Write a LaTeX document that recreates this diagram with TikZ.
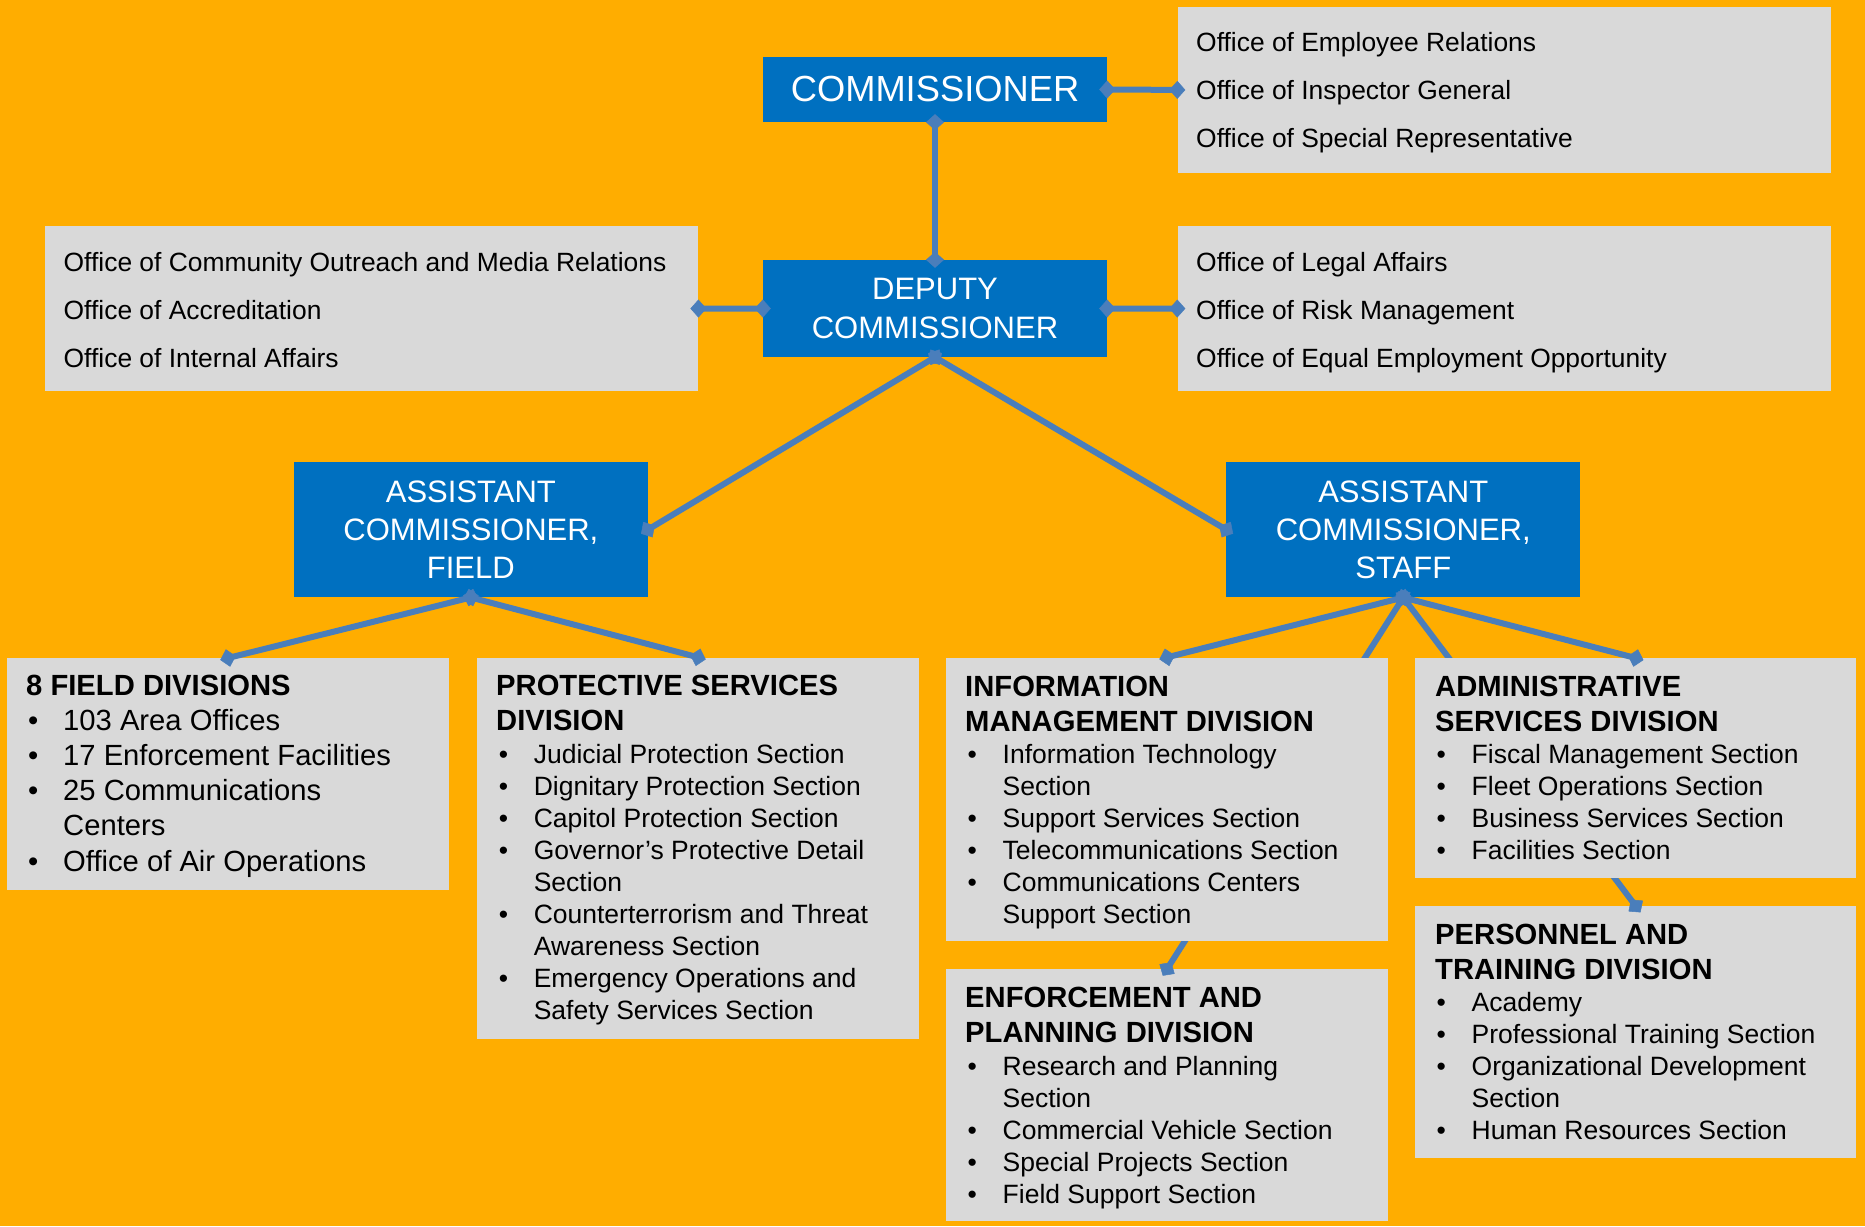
\documentclass[tikz,border=0pt]{standalone}
\usepackage{fontspec}
\setmainfont{Liberation Sans}
\usetikzlibrary{arrows.meta}
\definecolor{bgor}{HTML}{FFAD00}
\definecolor{boxblue}{HTML}{0070C0}
\definecolor{boxgray}{HTML}{D9D9D9}
\definecolor{conncol}{HTML}{4A7EBB}
\newcommand\mybul{\makebox[35pt][l]{•}}
\newcommand\mycont{\hspace*{35pt}}
\newcommand\offfont{\fontsize{26.4}{47.8}\selectfont}
\newcommand\hdrfont{\bfseries\fontsize{29.2}{35}\selectfont}
\newcommand\itmfont{\fontsize{26.5}{32}\selectfont}
\newcommand\fdfont{\fontsize{29.2}{35.25}\selectfont}
\newcommand\bxfont{\fontsize{31}{38.2}\selectfont}
\newcommand\commfont{\fontsize{36.3}{40}\selectfont}
\begin{document}
\begin{tikzpicture}[x=1pt,y=-1pt,
  graybox/.style={fill=boxgray, draw=none, anchor=north west, inner sep=0pt},
  bluebox/.style={fill=boxblue, text=white, draw=none, inner sep=0pt, align=center, font=\bxfont},
  offtxt/.style={anchor=north west, inner sep=0pt, align=left, font=\offfont, yshift=33.46pt},
  hdrtxt/.style={anchor=north west, inner sep=0pt, align=left, font=\hdrfont, yshift=24.5pt},
  itmtxt/.style={anchor=north west, inner sep=0pt, align=left, font=\itmfont, yshift=22.4pt},
  fdtxt/.style={anchor=north west, inner sep=0pt, align=left, font=\fdfont, yshift=24.675pt},
  fdhdr/.style={anchor=north west, inner sep=0pt, align=left, font=\bfseries\fdfont, yshift=24.675pt},
  conn/.style={draw=conncol, line width=6pt,
    {Diamond[length=16pt,width=18pt,line width=0.5pt]}-{Diamond[length=16pt,width=18pt,line width=0.5pt]},
    shorten <=-8pt, shorten >=-8pt}
]
\useasboundingbox (0,0) rectangle (1865,1226);
\fill[bgor] (0,0) rectangle (1865,1226);

% office boxes
\node[graybox, minimum width=653.2pt, minimum height=166pt] (off1) at (1177.3,6.7) {};
\node[offtxt] (off1t) at (1196,51.7) {\strut Office of Employee Relations\\Office of Inspector General\\Office of Special Representative};
\node[graybox, minimum width=653.3pt, minimum height=164.7pt] (offL) at (44.7,226) {};
\node[offtxt] (offLt) at (63.5,271.7) {\strut Office of Community Outreach and Media Relations\\Office of Accreditation\\Office of Internal Affairs};
\node[graybox, minimum width=653.2pt, minimum height=164.7pt] (offR) at (1177.3,226) {};
\node[offtxt] (offRt) at (1196,271.7) {\strut Office of Legal Affairs\\Office of Risk Management\\Office of Equal Employment Opportunity};

% blue boxes
\node[bluebox, font=\commfont, minimum width=344pt, minimum height=65pt] (comm) at (935,89.5) {COMMISSIONER};
\node[bluebox, minimum width=344pt, minimum height=97pt] (dep) at (935,308.5) {DEPUTY\\COMMISSIONER};
\node[bluebox, minimum width=353.7pt, minimum height=135.3pt] (acf) at (470.85,529.65) {ASSISTANT\\COMMISSIONER,\\FIELD};
\node[bluebox, minimum width=353.7pt, minimum height=135.3pt] (acs) at (1403.25,529.65) {ASSISTANT\\COMMISSIONER,\\STAFF};

% 8 field divisions
\node[graybox, minimum width=441.2pt, minimum height=232pt] (fd) at (7.2,658) {};
\node[fdhdr] (fdh) at (26,695) {\strut 8 FIELD DIVISIONS};
\node[fdtxt] (fdi) at (28,730) {\strut\mybul 103 Area Offices\\\mybul 17 Enforcement Facilities\\\mybul 25 Communications\\\mycont Centers\\\mybul Office of Air Operations};

% protective services
\node[graybox, minimum width=441.3pt, minimum height=381pt] (psd) at (477.2,657.3) {};
\node[hdrtxt] (psdh) at (496,695.5) {\strut PROTECTIVE SERVICES\\DIVISION};
\node[itmtxt] (psdi) at (498.6,763.5) {\strut\mybul Judicial Protection Section\\\mybul Dignitary Protection Section\\\mybul Capitol Protection Section\\\mybul Governor’s Protective Detail\\\mycont Section\\\mybul Counterterrorism and Threat\\\mycont Awareness Section\\\mybul Emergency Operations and\\\mycont Safety Services Section};

% enforcement and planning
\node[graybox, minimum width=441.7pt, minimum height=252pt] (epd) at (946,969) {};
\node[hdrtxt] (epdh) at (965,1007.3) {\strut ENFORCEMENT AND\\PLANNING DIVISION};
\node[itmtxt] (epdi) at (967.5,1075) {\strut\mybul Research and Planning\\\mycont Section\\\mybul Commercial Vehicle Section\\\mybul Special Projects Section\\\mybul Field Support Section};

% personnel and training
\node[graybox, minimum width=441pt, minimum height=252pt] (ptd) at (1415,906) {};
\node[hdrtxt] (ptdh) at (1435,944) {\strut PERSONNEL AND\\TRAINING DIVISION};
\node[itmtxt] (ptdi) at (1436.5,1011.7) {\strut\mybul Academy\\\mybul Professional Training Section\\\mybul Organizational Development\\\mycont Section\\\mybul Human Resources Section};

% connectors
\draw[conn] (comm.east) -- (off1.west);
\draw[conn] (comm.south) -- (dep.north);
\draw[conn] (dep.west) -- (offL.east);
\draw[conn] (dep.east) -- (offR.west);
\draw[conn] (dep.south) -- (acf.east);
\draw[conn] (dep.south) -- (acs.west);
\draw[conn] (acf.south) -- (fd.north);
\draw[conn] (acf.south) -- (psd.north);
\draw[conn] (acs.south) -- (epd.north);
\draw[conn] (acs.south) -- (ptd.north);

% information management
\node[graybox, minimum width=441.7pt, minimum height=283.7pt] (imd) at (946,657.3) {};
\node[hdrtxt] (imdh) at (965,696) {\strut INFORMATION\\MANAGEMENT DIVISION};
\node[itmtxt] (imdi) at (967.5,763.3) {\strut\mybul Information Technology\\\mycont Section\\\mybul Support Services Section\\\mybul Telecommunications Section\\\mybul Communications Centers\\\mycont Support Section};

% administrative services
\node[graybox, minimum width=441pt, minimum height=220pt] (asd) at (1415,658) {};
\node[hdrtxt] (asdh) at (1435,696) {\strut ADMINISTRATIVE\\SERVICES DIVISION};
\node[itmtxt] (asdi) at (1436.5,763.3) {\strut\mybul Fiscal Management Section\\\mybul Fleet Operations Section\\\mybul Business Services Section\\\mybul Facilities Section};

\draw[conn] (acs.south) -- (imd.north);
\draw[conn] (acs.south) -- (asd.north);
\end{tikzpicture}
\end{document}
